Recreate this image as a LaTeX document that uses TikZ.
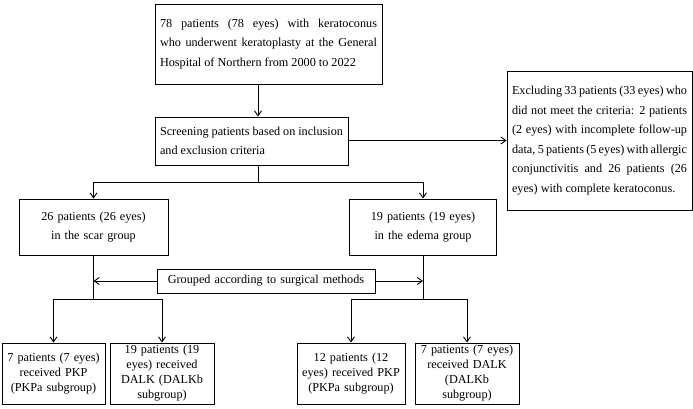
\documentclass[tikz,border=0pt]{standalone}
\usepackage{fontspec}
\setmainfont{Liberation Serif}
\usetikzlibrary{arrows.meta}
\begin{document}
\hyphenpenalty=10000
\exhyphenpenalty=10000
\begin{tikzpicture}[x=1pt,y=-1pt,
  box/.style={draw,line width=0.9pt,inner xsep=5pt,inner ysep=2pt,font=\fontsize{12.2}{19.5}\selectfont},
  sbox/.style={box,align=center,inner xsep=3pt,inner ysep=0pt,minimum height=61pt,font=\fontsize{12.2}{15}\selectfont},
  arr/.style={-{Straight Barb[length=5pt,width=7pt]},line width=0.9pt},
  ln/.style={line width=0.9pt}]
\useasboundingbox (0,0) rectangle (693,408);
\node[box,text width=217pt,minimum height=80pt,align=justify] (top) at (268.5,44) {78 patients (78 eyes) with keratoconus who underwent keratoplasty at the General Hospital of Northern from 2000 to 2022};
\node[box,text width=183pt,minimum height=48pt,align=justify] (scr) at (251.5,141) {Screening patients based on inclusion and exclusion criteria};
\node[box,text width=175pt,minimum height=139pt,align=justify] (exc) at (599.5,140.5) {Excluding 33 patients (33 eyes) who did not meet the criteria: 2 patients (2 eyes) with incomplete follow-up data, 5 patients (5 eyes) with allergic conjunctivitis and 26 patients (26 eyes) with complete keratoconus.};
\node[box,text width=139pt,minimum height=56pt,align=center] (scar) at (93.5,227) {26 patients (26 eyes)\\in the scar group};
\node[box,text width=137pt,minimum height=56pt,align=center] (ede) at (423,227) {19 patients (19 eyes)\\in the edema group};
\node[box,text width=208pt,minimum height=24pt,align=center] (grp) at (266,281) {Grouped according to surgical methods};
\node[sbox,text width=97pt] (b1) at (53.5,373.5) {7 patients (7 eyes)\\received PKP\\(PKPa subgroup)};
\node[sbox,text width=98pt] (b2) at (162,373.5) {19 patients (19\\eyes) received\\DALK (DALKb\\subgroup)};
\node[sbox,text width=102pt] (b3) at (351,373.5) {12 patients (12\\eyes) received PKP\\(PKPa subgroup)};
\node[sbox,text width=98pt] (b4) at (467,373.5) {7 patients (7 eyes)\\received DALK\\(DALKb\\subgroup)};
\coordinate (s1) at (258,182);
\coordinate (sb) at (258,165);
\draw[arr] (top.south -| sb) -- (scr.north -| sb);
\draw[arr] (scr.east |- exc.west) -- (exc.west);
\draw[ln] (sb) -- (s1);
\draw[arr] (s1) -| (scar.north);
\draw[arr] (s1) -| (ede.north);
\coordinate (l1) at (93.5,299);
\coordinate (r1) at (423,299);
\draw[ln] (scar.south) -- (l1);
\draw[ln] (ede.south) -- (r1);
\draw[arr] (grp.west) -- (grp.west -| l1);
\draw[arr] (grp.east) -- (grp.east -| r1);
\draw[arr] (l1) -| (b1.north);
\draw[arr] (l1) -| (b2.north);
\draw[arr] (r1) -| (b3.north);
\draw[arr] (r1) -| (b4.north);
\end{tikzpicture}
\end{document}
